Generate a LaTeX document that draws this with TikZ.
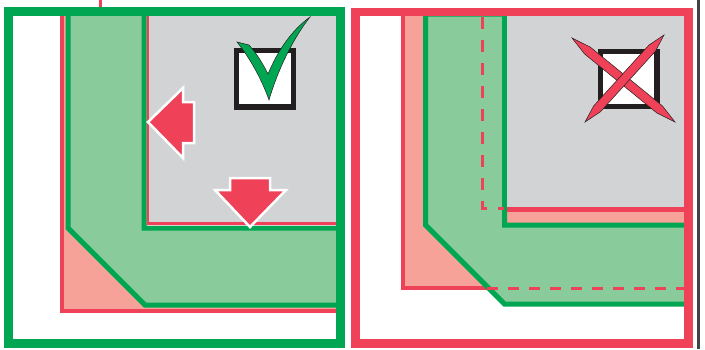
\documentclass[tikz,border=0pt]{standalone}
\usepackage{tikz}
\usetikzlibrary{arrows.meta}
\usepackage{xcolor}
\definecolor{frameGreen}{RGB}{0,166,81}
\definecolor{bandGreen}{RGB}{137,203,155}
\definecolor{edgeRed}{RGB}{239,65,88}
\definecolor{padPink}{RGB}{246,162,152}
\definecolor{roomGray}{RGB}{209,211,212}
\definecolor{boxBlack}{RGB}{35,31,32}

\begin{document}
\begin{tikzpicture}[
  x=1pt, y=-1pt,
  pad/.style={fill=padPink, draw=edgeRed, line width=4pt},
  band/.style={fill=bandGreen, draw=frameGreen, line width=5pt, line join=miter},
  room/.style={fill=roomGray},
  frame/.style={draw=#1, line width=9pt},
  tickbox/.style={draw=boxBlack, fill=white, line width=5.5pt},
  push/.style={fill=edgeRed, draw=white, line width=2.5pt, line join=miter},
  brush/.style={fill=#1, draw=boxBlack, line width=0.5pt},
  hidden/.style={draw=edgeRed, line width=3pt, dash pattern=on 12pt off 11pt}
]
  \useasboundingbox (0,0) rectangle (705,349);

  % Left panel: correct
  \draw[edgeRed, line width=3pt] (100,0) -- (100,8);
  \draw[pad] (62,13) rectangle (340,311);
  \draw[band] (68,13) -- (68,228) -- (145,305) -- (340,305)
    -- (340,228) -- (144,228) -- (144,13) -- cycle;
  \fill[room] (146.5,13) rectangle (340,225.5);
  \draw[edgeRed, line width=2.5pt] (148,13) -- (148,223.5) -- (340,223.5);
  \draw[tickbox] (236.7,50.3) rectangle (293.7,106.8);
  \draw[brush=frameGreen] (237,42) -- (249,45)
    .. controls (257,54) and (263,64) .. (268,74)
    .. controls (278,50) and (292,30) .. (310,17)
    .. controls (295,36) and (279,66) .. (269,100)
    .. controls (262,80) and (250,58) .. cycle;
  \draw[push] (148,122) -- (183,88) -- (183,102) -- (194,102)
    -- (194,143) -- (183,143) -- (183,158) -- cycle;
  \draw[push] (250,227) -- (215,190) -- (230,190) -- (230,178)
    -- (270,178) -- (270,190) -- (286,190) -- cycle;
  \draw[frame=frameGreen] (8,11.5) rectangle (340,343.5);

  % Right panel: wrong
  \draw[pad] (402.5,14) rectangle (688,288);
  \draw[band] (425.5,14) -- (425.5,225) -- (504.5,304) -- (688,304)
    -- (688,225) -- (504.5,225) -- (504.5,14) -- cycle;
  \fill[room] (507,14) rectangle (688,209);
  \draw[edgeRed, line width=5pt] (507,209) -- (688,209);
  \draw[hidden] (482,17) -- (482,208) -- (504,208);
  \draw[hidden, dash pattern=on 11pt off 10pt] (487,288) -- (684,288);
  \draw[tickbox] (600.3,51.3) rectangle (657,106.3);
  \draw[brush=edgeRed] (572,38) -- (590.3,47.1) -- (662.4,105.9)
    -- (675,122) -- (656.8,112.9) -- (584.7,54.1) -- cycle;
  \draw[brush=edgeRed] (664,35) -- (655.5,51.1) -- (600.3,111.9)
    -- (585,122) -- (593.7,105.9) -- (648.9,45.1) -- cycle;
  \draw[frame=edgeRed, line width=8.5pt] (355.5,12) rectangle (688.5,343.5);
  \draw[boxBlack!85, line width=3pt] (698.5,0) -- (698.5,349);
\end{tikzpicture}
\end{document}
